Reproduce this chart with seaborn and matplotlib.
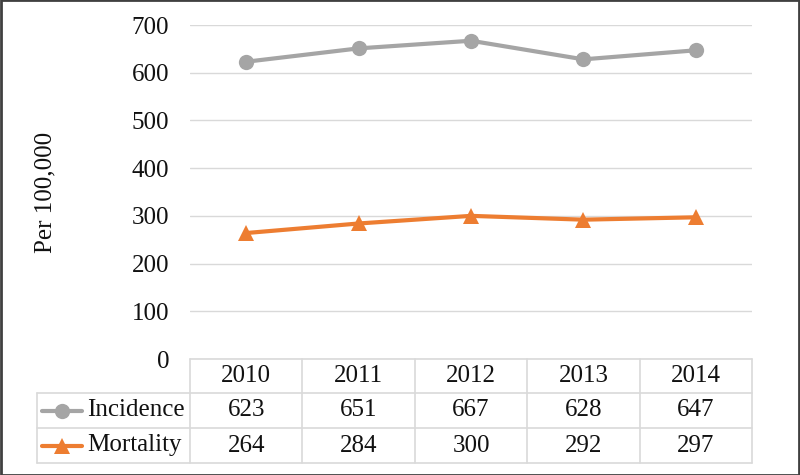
import seaborn as sns
import matplotlib.pyplot as plt
import pandas as pd
from matplotlib.lines import Line2D
from matplotlib.patches import Rectangle

years = ["2010", "2011", "2012", "2013", "2014"]
incidence = [623, 651, 667, 628, 647]
mortality = [264, 284, 300, 292, 297]
series_names = ["Incidence", "Mortality"]

colors = {"Incidence": "#a5a5a5", "Mortality": "#ed7d31"}
markers = {"Incidence": "o", "Mortality": "^"}

sns.set_style("white")
plt.rcParams["font.family"] = ["Liberation Serif", "DejaVu Serif"]
plt.rcParams["font.size"] = 18

df = pd.DataFrame({
    "year": years * 2,
    "pos": list(range(len(years))) * 2,
    "value": incidence + mortality,
    "series": ["Incidence"] * len(years) + ["Mortality"] * len(years),
})

W, H = 800, 475
fig = plt.figure(figsize=(8, 4.75), dpi=100)
txt_col = "#111111"

# plot area in pixel units
left, right, top, bottom = 190, 752, 25, 359
ax = fig.add_axes([left / W, 1 - bottom / H, (right - left) / W, (bottom - top) / H])

for name in series_names:
    sub = df[df["series"] == name]
    sns.lineplot(data=sub, x="pos", y="value", ax=ax, color=colors[name],
                 marker=markers[name], markersize=11, linewidth=3,
                 markeredgewidth=0, legend=False)

ax.set_xlim(-0.5, len(years) - 0.5)
ax.set_ylim(0, 700)
ax.set_yticks(range(0, 701, 100))
ax.yaxis.grid(True, color="#d9d9d9", linewidth=1)
ax.set_axisbelow(True)
ax.set_xticks([])
ax.set_xlabel("")
ax.set_ylabel("")
for s in ax.spines.values():
    s.set_visible(False)
ax.tick_params(axis="y", length=0, pad=15, labelsize=18, labelcolor=txt_col)

fig.text(45 / W, 1 - 192 / H, "Per 100,000", rotation=90, ha="center", va="center",
         fontsize=18, color=txt_col)

# data table below the plot
grid_col = "#d9d9d9"
col_w = (right - left) / len(years)
row_y = [359, 393, 428, 463]
table_left = 37


def px(x, y):
    return x / W, 1 - y / H


def hline(x0, x1, y):
    fig.add_artist(Line2D([x0 / W, x1 / W], [1 - y / H, 1 - y / H], color=grid_col, lw=1.2))


def vline(x, y0, y1):
    fig.add_artist(Line2D([x / W, x / W], [1 - y0 / H, 1 - y1 / H], color=grid_col, lw=1.2))


hline(left, right, row_y[0])
for y in row_y[1:]:
    hline(table_left, right, y)
vline(table_left, row_y[1], row_y[3])
for i in range(len(years) + 1):
    vline(left + i * col_w, row_y[0], row_y[3])

rows = [years, [str(v) for v in incidence], [str(v) for v in mortality]]
for r, vals in enumerate(rows):
    yc = (row_y[r] + row_y[r + 1]) / 2
    for i, v in enumerate(vals):
        x, y = px(left + (i + 0.5) * col_w, yc)
        fig.text(x, y, v, ha="center", va="center", fontsize=18, color=txt_col)

for r, name in enumerate(series_names):
    yc = (row_y[r + 1] + row_y[r + 2]) / 2
    fig.add_artist(Line2D([42 / W, 82 / W], [1 - yc / H] * 2, color=colors[name], lw=3,
                          solid_capstyle="round"))
    fig.add_artist(Line2D([62 / W], [1 - yc / H], color=colors[name], marker=markers[name],
                          markersize=11, markeredgewidth=0))
    x, y = px(87, yc)
    fig.text(x, y, name, ha="left", va="center", fontsize=18, color=txt_col)

fig.add_artist(Rectangle((0.001, 0.001), 0.998, 0.998, transform=fig.transFigure,
                         fill=False, edgecolor="#404040", linewidth=2))

fig.savefig("out.png", dpi=100)
